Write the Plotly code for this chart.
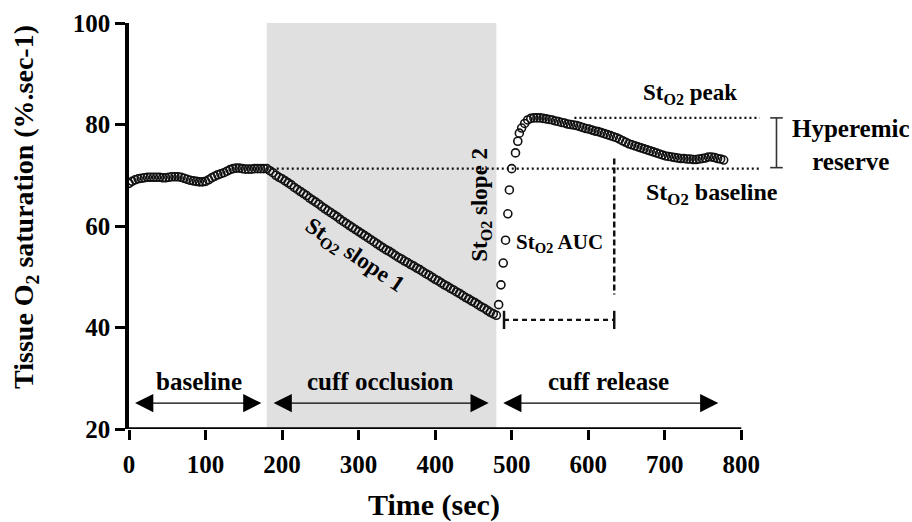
import plotly.graph_objects as go

# ---------------- data ----------------
baseline_time = list(range(0, 177, 4))
baseline_sto2 = [68.4, 68.8, 69.1, 69.3, 69.4, 69.5, 69.6, 69.6, 69.6, 69.6, 69.6,
                 69.5, 69.5, 69.6, 69.7, 69.7,
                 69.7, 69.6, 69.4, 69.2, 69.0,
                 68.9, 68.8, 68.7, 68.7, 68.8,
                 69.1, 69.5, 69.8, 70.1, 70.3,
                 70.5, 70.8, 71.1, 71.3, 71.4,
                 71.4, 71.3, 71.2, 71.2, 71.2,
                 71.3, 71.3, 71.3, 71.3]

occlusion_time = list(range(180, 481, 4))
occlusion_sto2 = [71.3, 70.9, 70.5, 70.0, 69.6, 69.3, 68.9, 68.5, 68.1, 67.6,
                  67.2, 66.8, 66.4, 66.0, 65.5, 65.1, 64.7, 64.3, 63.8, 63.4,
                  63.0, 62.6, 62.2, 61.8, 61.3, 60.9, 60.5, 60.1, 59.7, 59.3,
                  58.9, 58.5, 58.1, 57.7, 57.3, 56.9, 56.5, 56.1, 55.7, 55.3,
                  55.0, 54.6, 54.2, 53.8, 53.5, 53.1, 52.8, 52.4, 52.1, 51.7,
                  51.4, 51.0, 50.6, 50.3, 49.9, 49.5, 49.2, 48.8, 48.4, 48.1,
                  47.7, 47.4, 47.0, 46.7, 46.3, 45.9, 45.6, 45.2, 44.9, 44.5,
                  44.1, 43.8, 43.4, 43.0, 42.7, 42.4]

release_time = [483, 486, 489, 492, 495, 497, 500, 505, 508, 510, 513, 517, 521]
release_sto2 = [44.5, 48.4, 52.7, 57.2, 62.4, 67.1, 71.3, 74.4, 76.7, 78.3, 79.3, 80.2, 80.9]

recovery_time = list(range(525, 778, 4))
recovery_sto2 = [81.2, 81.3, 81.3, 81.3, 81.2, 81.1, 81.0, 80.9, 80.7, 80.6,
                 80.4, 80.3, 80.1, 80.0, 79.9, 79.8, 79.6, 79.4, 79.2, 79.1,
                 78.9, 78.7, 78.6, 78.4, 78.2, 78.0, 77.8, 77.6, 77.4, 77.1,
                 76.8, 76.5, 76.2, 76.0, 75.8, 75.6, 75.4, 75.2, 75.0, 74.8,
                 74.6, 74.4, 74.2, 74.0, 73.8, 73.7, 73.6, 73.5, 73.4, 73.3,
                 73.3, 73.2, 73.2, 73.1, 73.1, 73.2, 73.3, 73.4, 73.6, 73.6,
                 73.5, 73.3, 73.2, 73.0]

assert len(baseline_time) == len(baseline_sto2)
assert len(occlusion_time) == len(occlusion_sto2)
assert len(release_time) == len(release_sto2)
assert len(recovery_time) == len(recovery_sto2)

time = baseline_time + occlusion_time + release_time + recovery_time
sto2 = baseline_sto2 + occlusion_sto2 + release_sto2 + recovery_sto2

# phases
phase_names = ["baseline", "cuff occlusion", "cuff release"]
phase_arrow_start = [6, 187, 487]
phase_arrow_end = [173, 470, 770]
phase_label_time = [92, 328, 627]
occlusion_window = [180, 480]

# reference levels
sto2_baseline_level = 71.3
sto2_peak_level = 81.3
baseline_line_time = [180, 826]
peak_line_time = [582, 824]
auc_time = [490, 634]
auc_vertical_sto2 = [73.3, 46.5]
auc_floor = 41.5
reserve_time = 846
reserve_range = [81.3, 71.5]

x_ticks = [0, 100, 200, 300, 400, 500, 600, 700, 800]
y_ticks = [20, 40, 60, 80, 100]

SERIF = "Liberation Serif"
INK = "#111111"

fig = go.Figure()

# dotted reference lines
fig.add_trace(go.Scatter(x=baseline_line_time, y=[sto2_baseline_level] * 2, mode="lines",
                         line=dict(color=INK, width=2.2, dash="2px,3px"), hoverinfo="skip"))
fig.add_trace(go.Scatter(x=peak_line_time, y=[sto2_peak_level] * 2, mode="lines",
                         line=dict(color=INK, width=2.2, dash="2px,3px"), hoverinfo="skip"))
# AUC lines
fig.add_trace(go.Scatter(x=[auc_time[1], auc_time[1]], y=auc_vertical_sto2, mode="lines",
                         line=dict(color=INK, width=2.5, dash="6px,3px"), hoverinfo="skip"))
fig.add_trace(go.Scatter(x=auc_time, y=[auc_floor] * 2, mode="lines+markers",
                         line=dict(color=INK, width=2.2, dash="5px,4px"),
                         marker=dict(symbol="line-ns-open", size=13, color=INK,
                                     line=dict(width=2.5, color=INK)),
                         hoverinfo="skip"))
# hyperemic reserve bracket
fig.add_trace(go.Scatter(x=[reserve_time] * 2, y=reserve_range, mode="lines+markers",
                         line=dict(color="#333333", width=1.6),
                         marker=dict(symbol="line-ew-open", size=9, color="#333333",
                                     line=dict(width=1.6, color="#333333")),
                         hoverinfo="skip"))
# data
fig.add_trace(go.Scatter(x=time, y=sto2, mode="markers",
                         marker=dict(symbol="circle-open", size=8, color=INK,
                                     line=dict(width=1.6, color=INK))))

shapes = [
    dict(type="rect", xref="x", yref="y", x0=occlusion_window[0], x1=occlusion_window[1],
         y0=y_ticks[0], y1=y_ticks[-1], fillcolor="#e0e0e0", line=dict(width=0), layer="below"),
    dict(type="line", xref="x", yref="y", x0=x_ticks[0], x1=x_ticks[-1],
         y0=y_ticks[0], y1=y_ticks[0], line=dict(color="black", width=3.5), layer="above"),
]

ann = []
def txt(x, y, s, size=22, angle=0, xanchor="center", **kw):
    ann.append(dict(x=x, y=y, xref="x", yref="y", text=s, showarrow=False,
                    textangle=angle, xanchor=xanchor, yanchor="middle",
                    font=dict(family=SERIF, size=size, color="black", weight="bold"), **kw))

for name, xs, xe, xl in zip(phase_names, phase_arrow_start, phase_arrow_end, phase_label_time):
    txt(xl, 29.4, name, size=25)
    ann.append(dict(x=xe, y=25.1, ax=xs, ay=25.1, xref="x", yref="y", axref="x", ayref="y",
                    text="", showarrow=True, arrowhead=2, startarrowhead=2,
                    arrowside="end+start", arrowsize=2.8, startarrowsize=2.8,
                    arrowwidth=1.3, arrowcolor="black"))

txt(294, 54.0, "St<sub>O2</sub> slope 1", size=23, angle=34)
txt(460, 64.2, "St<sub>O2</sub> slope 2", size=23, angle=-90)
txt(503, 56.6, "St<sub>O2</sub> AUC", size=21, xanchor="left")
txt(733, 86.0, "St<sub>O2</sub> peak", size=23)
txt(762, 66.4, "St<sub>O2</sub> baseline", size=24)
txt(943, 75.9, "Hyperemic<br>reserve", size=25)

# axis titles
ann.append(dict(x=-0.134, y=0.548, xref="paper", yref="paper",
                text="Tissue O<sub>2</sub> saturation (%.sec-1)", showarrow=False,
                textangle=-90, xanchor="center", yanchor="middle",
                font=dict(family=SERIF, size=28, color="black", weight="bold")))
ann.append(dict(x=399, y=-0.186, xref="x", yref="paper", text="Time (sec)", showarrow=False,
                xanchor="center", yanchor="middle",
                font=dict(family=SERIF, size=30, color="black", weight="bold")))

fig.update_layout(
    width=912, height=522,
    margin=dict(l=129, r=10, t=20, b=93),
    paper_bgcolor="white", plot_bgcolor="white",
    showlegend=False,
    shapes=shapes, annotations=ann,
    xaxis=dict(range=[0, 1010], tickvals=x_ticks, ticks="outside", ticklen=10, tickwidth=3,
               tickcolor="black", showline=False, showgrid=False, zeroline=False,
               ticklabelstandoff=3,
               tickfont=dict(family=SERIF, size=25, color="black", weight="bold")),
    yaxis=dict(range=[20, 100], tickvals=y_ticks, ticks="outside", ticklen=10, tickwidth=3,
               tickcolor="black", showline=True, linecolor="black", linewidth=3.5,
               showgrid=False, zeroline=False,
               tickfont=dict(family=SERIF, size=25, color="black", weight="bold")),
)

fig.write_html("out.html")
